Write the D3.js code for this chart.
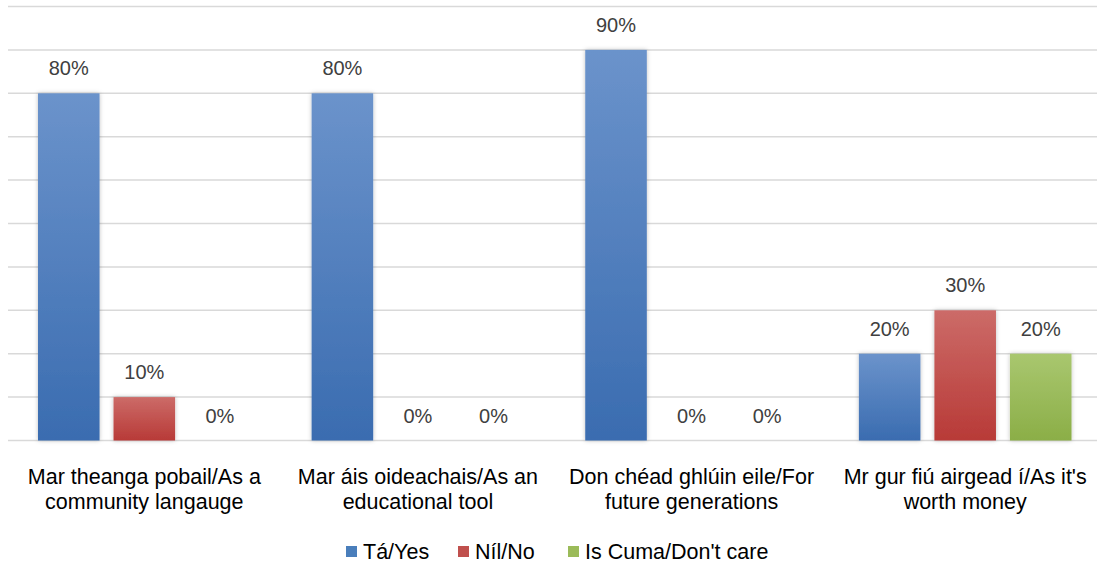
<!DOCTYPE html>
<html><head><meta charset="utf-8">
<script src="https://cdn.jsdelivr.net/npm/d3@7"></script>
<style>body{margin:0;background:#fff}svg{display:block}</style>
</head><body>
<script>
const categories = [
  ["Mar theanga pobail/As a", "community langauge"],
  ["Mar áis oideachais/As an", "educational tool"],
  ["Don chéad ghlúin eile/For", "future generations"],
  ["Mr gur fiú airgead í/As it's", "worth money"]
];
const seriesNames = ["Tá/Yes", "Níl/No", "Is Cuma/Don't care"];
const yesValues = [80, 80, 90, 20];
const noValues = [10, 0, 0, 30];
const dontCareValues = [0, 0, 0, 20];
const gridTicks = [0, 10, 20, 30, 40, 50, 60, 70, 80, 90, 100];

const W = 1097, H = 572;
const FONT = "'Liberation Sans', Arial, sans-serif";
const svg = d3.select("body").append("svg").attr("width", W).attr("height", H);

const defs = svg.append("defs");
const grads = [["#6b93cb", "#3a6cb0"], ["#cc6b68", "#b83a37"], ["#a9c76f", "#8bae47"]];
grads.forEach((g, i) => {
  const lg = defs.append("linearGradient").attr("id", "g" + i).attr("x1", 0).attr("y1", 0).attr("x2", 0).attr("y2", 1);
  lg.append("stop").attr("offset", "0%").attr("stop-color", g[0]);
  lg.append("stop").attr("offset", "100%").attr("stop-color", g[1]);
});
const f = defs.append("filter").attr("id", "sh").attr("x", "-20%").attr("y", "-20%").attr("width", "140%").attr("height", "140%");
f.append("feDropShadow").attr("dx", 0).attr("dy", 0).attr("stdDeviation", 2).attr("flood-color", "#000").attr("flood-opacity", 0.25);

const seriesData = [yesValues, noValues, dontCareValues];
const x0 = d3.scaleBand().domain(d3.range(categories.length)).range([7.5, 1102]).paddingInner(0).paddingOuter(0);
const x1 = d3.scaleBand().domain(d3.range(3)).range([30.5, x0.bandwidth() - 30.5]).paddingInner(0.185).paddingOuter(0.0);
const y = d3.scaleLinear().domain([0, 100]).range([440.5, 6.5]);

svg.append("g").selectAll("line").data(gridTicks).join("line")
  .attr("x1", 8).attr("x2", W).attr("y1", d => y(d)).attr("y2", d => y(d))
  .attr("stroke", "#d9d9d9").attr("stroke-width", 1.5);

const groups = svg.append("g").selectAll("g").data(categories).join("g")
  .attr("transform", (d, i) => `translate(${x0(i)},0)`);

groups.each(function(c, ci) {
  const g = d3.select(this);
  seriesData.forEach((vals, si) => {
    const v = vals[ci];
    if (v > 0) {
      g.append("rect").attr("x", x1(si)).attr("width", x1.bandwidth())
        .attr("y", y(v)).attr("height", y(0) - y(v))
        .attr("fill", `url(#g${si})`).attr("filter", "url(#sh)");
    }
    g.append("text").attr("x", x1(si) + x1.bandwidth() / 2).attr("y", y(v) - 18)
      .attr("text-anchor", "middle").attr("font-family", FONT).attr("font-size", 20)
      .attr("fill", "#404040").text(v + "%");
  });
  const t = g.append("text").attr("text-anchor", "middle").attr("font-family", FONT)
    .attr("font-size", 21.5).attr("fill", "#000");
  c.forEach((line, li) => {
    t.append("tspan").attr("x", x0.bandwidth() / 2).attr("y", 484 + li * 25).text(line);
  });
});

const legendX = [346, 458, 568];
const lg = svg.append("g");
seriesNames.forEach((n, i) => {
  lg.append("rect").attr("x", legendX[i]).attr("y", 546).attr("width", 11).attr("height", 11)
    .attr("fill", ["#4a7ebb", "#c0504d", "#9bbb59"][i]);
  lg.append("text").attr("x", legendX[i] + 17).attr("y", 559).attr("font-family", FONT)
    .attr("font-size", 21.5).attr("fill", "#000").text(n);
});
</script>
</body></html>
